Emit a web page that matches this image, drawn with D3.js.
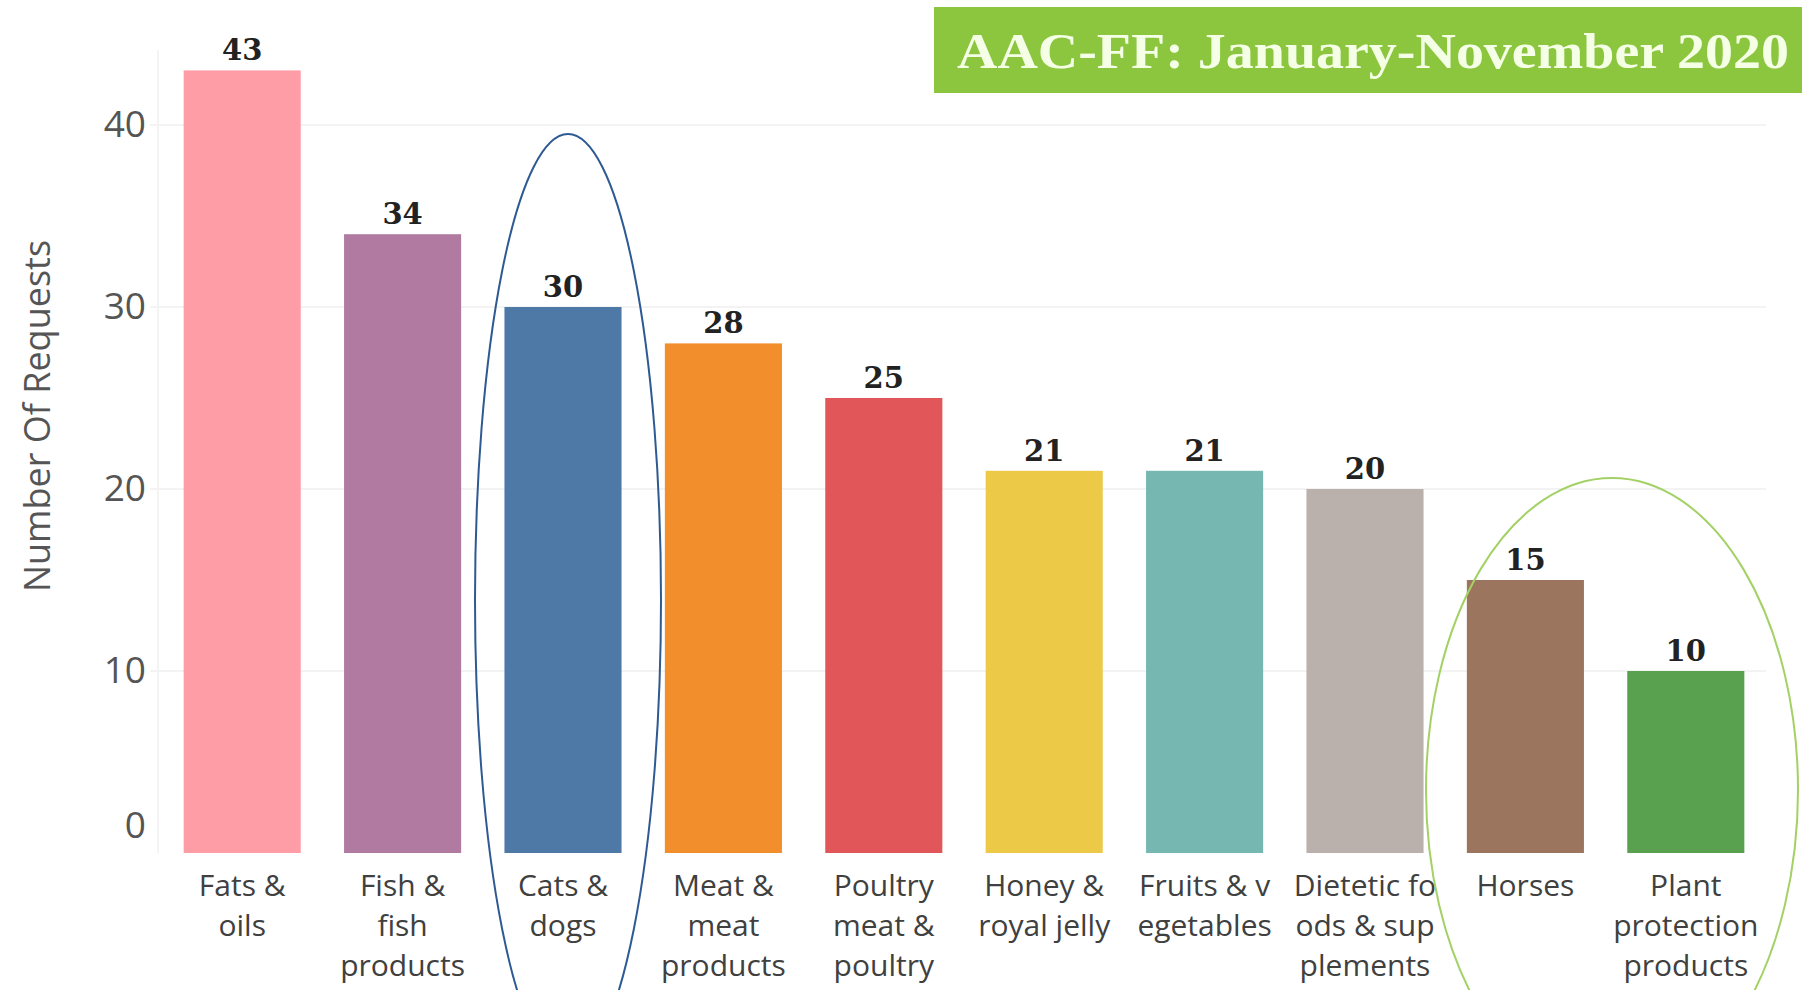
<!DOCTYPE html>
<html>
<head>
<meta charset="utf-8">
<script src="https://cdn.jsdelivr.net/npm/d3@7"></script>
<style>
  html, body { margin: 0; padding: 0; background: #ffffff; }
  svg { display: block; }
</style>
</head>
<body>
<svg id="chart" width="1802" height="990"></svg>
<script>
// ---- data ----
const categories = [
  "Fats & oils", "Fish & fish products", "Cats & dogs", "Meat & meat products",
  "Poultry meat & poultry", "Honey & royal jelly", "Fruits & vegetables",
  "Dietetic foods & supplements", "Horses", "Plant protection products"
];
const labelLines = [
  ["Fats &", "oils"],
  ["Fish &", "fish", "products"],
  ["Cats &", "dogs"],
  ["Meat &", "meat", "products"],
  ["Poultry", "meat &", "poultry"],
  ["Honey &", "royal jelly"],
  ["Fruits & v", "egetables"],
  ["Dietetic fo", "ods & sup", "plements"],
  ["Horses"],
  ["Plant", "protection", "products"]
];
const requests = [43, 34, 30, 28, 25, 21, 21, 20, 15, 10];
const barColors = ["#ff9da7", "#b07aa1", "#4e79a7", "#f28e2b", "#e15759",
                   "#edc948", "#76b7b2", "#bab0ac", "#9c755f", "#59a14f"];
const yTicks = [0, 10, 20, 30, 40];
const titleText = "AAC-FF: January-November 2020";
const yTitle = "Number Of Requests";

// ---- layout ----
const svg = d3.select("#chart");
const baseY = 853;

const x = d3.scaleBand()
  .domain(categories)
  .range([162, 1766])
  .paddingInner(0.27)
  .paddingOuter(0.135);

const y = d3.scaleLinear()
  .domain([0, 40])
  .range([baseY, 125]);

// light vertical pane edge
svg.append("line")
  .attr("x1", 158).attr("x2", 158)
  .attr("y1", 50).attr("y2", baseY)
  .attr("stroke", "#f4f4f4").attr("stroke-width", 2);

// gridlines
svg.append("g")
  .selectAll("line")
  .data(yTicks.filter(d => d > 0))
  .join("line")
  .attr("x1", 150).attr("x2", 1766)
  .attr("y1", d => y(d)).attr("y2", d => y(d))
  .attr("stroke", "#f3f3f3").attr("stroke-width", 2);

// y axis
const yAxis = svg.append("g")
  .attr("transform", "translate(146,0)")
  .call(d3.axisLeft(y).tickValues(yTicks).tickSize(0).tickPadding(0).tickFormat(d3.format("d")));
yAxis.select(".domain").remove();
yAxis.selectAll("text")
  .attr("font-family", "'Open Sans', sans-serif")
  .attr("font-size", 37)
  .attr("fill", "#555")
  .attr("dy", (d) => d === 0 ? "-0.42em" : "0.32em");

// y title
svg.append("text")
  .attr("transform", "translate(50,416) rotate(-90)")
  .attr("text-anchor", "middle")
  .attr("font-family", "'Open Sans', sans-serif")
  .attr("font-size", 36)
  .attr("fill", "#555")
  .text(yTitle);

// bars
svg.append("g")
  .selectAll("rect")
  .data(requests)
  .join("rect")
  .attr("x", (d, i) => x(categories[i]))
  .attr("width", x.bandwidth())
  .attr("y", d => y(d))
  .attr("height", d => y(0) - y(d))
  .attr("fill", (d, i) => barColors[i]);

// value labels
svg.append("g")
  .selectAll("text")
  .data(requests)
  .join("text")
  .attr("x", (d, i) => x(categories[i]) + x.bandwidth() / 2)
  .attr("y", d => y(d) - 10)
  .attr("text-anchor", "middle")
  .attr("font-family", "'DejaVu Serif', serif")
  .attr("font-weight", "bold")
  .attr("font-size", 29)
  .attr("fill", "#222")
  .text(d => d);

// x labels
const xl = svg.append("g")
  .selectAll("text")
  .data(labelLines)
  .join("text")
  .attr("text-anchor", "middle")
  .attr("font-family", "'Open Sans', sans-serif")
  .attr("font-size", 30)
  .attr("fill", "#404040");
xl.each(function(lines, i) {
  const cx = x(categories[i]) + x.bandwidth() / 2;
  d3.select(this).selectAll("tspan")
    .data(lines)
    .join("tspan")
    .attr("x", cx)
    .attr("y", (l, j) => 896 + j * 40)
    .text(l => l);
});

// highlight ellipses
svg.append("ellipse")
  .attr("cx", 568).attr("cy", 600).attr("rx", 93).attr("ry", 466)
  .attr("fill", "none").attr("stroke", "#2e5a93").attr("stroke-width", 2);
svg.append("ellipse")
  .attr("cx", 1612).attr("cy", 790).attr("rx", 186).attr("ry", 312)
  .attr("fill", "none").attr("stroke", "#a3d165").attr("stroke-width", 2);

// title box
svg.append("rect")
  .attr("x", 934).attr("y", 7).attr("width", 868).attr("height", 86)
  .attr("fill", "#8cc63f");
svg.append("text")
  .attr("x", 957).attr("y", 68)
  .attr("font-family", "'Liberation Serif', serif")
  .attr("font-weight", "bold")
  .attr("font-size", 50)
  .attr("fill", "#f4ffe6")
  .attr("textLength", 832)
  .attr("lengthAdjust", "spacingAndGlyphs")
  .text(titleText);
</script>
</body>
</html>
